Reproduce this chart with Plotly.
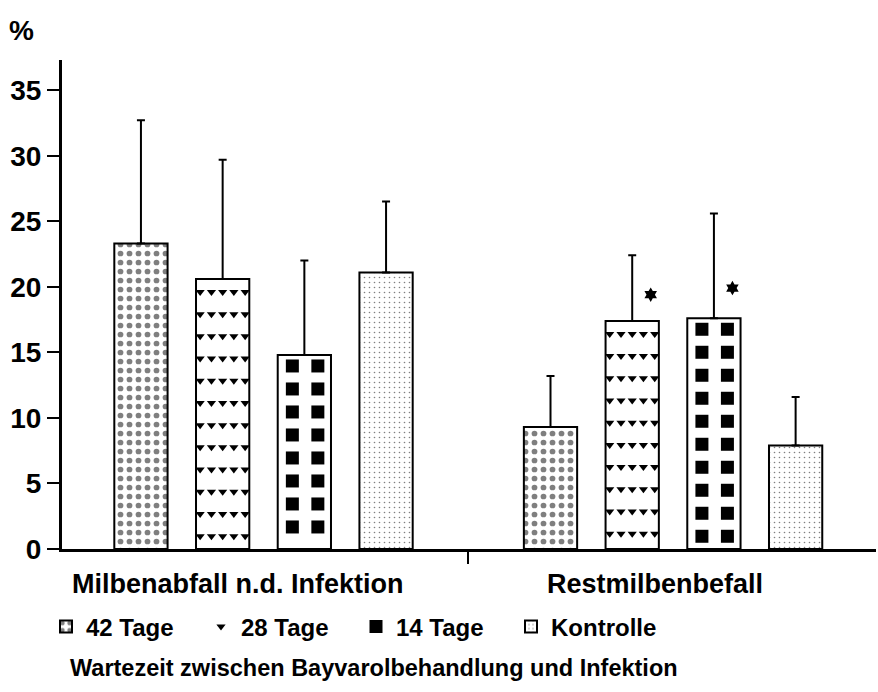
import plotly.graph_objects as go

# ---- data ----
groups = ["Milbenabfall n.d. Infektion", "Restmilbenbefall"]
series = ["42 Tage", "28 Tage", "14 Tage", "Kontrolle"]
means_42 = [23.3, 9.3]
means_28 = [20.6, 17.4]
means_14 = [14.8, 17.6]
means_k = [21.1, 7.9]
upper_42 = [32.7, 13.2]
upper_28 = [29.7, 22.4]
upper_14 = [22.0, 25.6]
upper_k = [26.5, 11.6]
signif_28 = [None, 19.4]   # asterisk heights
signif_14 = [None, 19.9]
y_ticks = [0, 5, 10, 15, 20, 25, 30, 35]

means = [means_42, means_28, means_14, means_k]
uppers = [upper_42, upper_28, upper_14, upper_k]

# ---- geometry (styling) ----
BARGAP = 0.202
BARGROUPGAP = 0.348
SLOT = (1 - BARGAP) / 4
XRANGE = [-0.492, 1.4955]
YRANGE = [0, 37.3]
W, H = 878, 692
ML, MR, MT, MB = 62, 2, 60, 143
px_x = (W - ML - MR) / (XRANGE[1] - XRANGE[0])
px_y = (H - MT - MB) / (YRANGE[1] - YRANGE[0])
gx = list(range(len(groups)))

FONT = "Liberation Sans, Arial, sans-serif"

fig = go.Figure()

patterns = [
    dict(shape=".", size=9, solidity=0.32, fgcolor="black", bgcolor="white", fillmode="overlay"),
    None,
    None,
    dict(shape=".", size=5, solidity=0.08, fgcolor="black", bgcolor="white", fillmode="overlay"),
]

for i, name in enumerate(series):
    err = [u - m for u, m in zip(uppers[i], means[i])]
    marker = dict(color="white", line=dict(color="black", width=2))
    if patterns[i] is not None:
        marker["pattern"] = patterns[i]
    fig.add_trace(go.Bar(
        x=gx, y=means[i], name=name, marker=marker,
        showlegend=(patterns[i] is not None), legendrank=i + 1,
        error_y=dict(type="data", symmetric=False, array=err,
                     arrayminus=[0] * len(err), color="black",
                     thickness=2, width=4),
    ))

def centers(i):
    return [g + (i - 1.5) * SLOT for g in gx]

# triangle fill for 28 Tage
tx, ty = [], []
for c, m in zip(centers(1), means_28):
    y = m - 13 / px_y
    while y > 0.15:
        for off in (-22.5, -11.2, 0, 11.2, 22.5):
            tx.append(c + off / px_x)
            ty.append(y)
        y -= 22.2 / px_y
fig.add_trace(go.Scatter(
    x=tx, y=ty, mode="markers", name="28 Tage", legendrank=2,
    marker=dict(symbol="triangle-down", size=8, color="black", line=dict(width=0)),
))

# square fill for 14 Tage
sx, sy = [], []
for c, m in zip(centers(2), means_14):
    y = m - 11 / px_y
    while y > 0.0:
        for off in (-12, 13.5):
            sx.append(c + off / px_x)
            sy.append(y)
        y -= 23 / px_y
fig.add_trace(go.Scatter(
    x=sx, y=sy, mode="markers", name="14 Tage", legendrank=3,
    marker=dict(symbol="square", size=13, color="black", line=dict(width=0)),
))

# asterisks
ax, ay = [], []
for i, sig in ((1, signif_28), (2, signif_14)):
    for c, s in zip(centers(i), sig):
        if s is not None:
            ax.append(c + 18.5 / px_x)
            ay.append(s)
fig.add_trace(go.Scatter(
    x=ax, y=ay, mode="markers", showlegend=False,
    marker=dict(symbol="hexagram", size=11, color="black", line=dict(width=0)),
))

ph = H - MT - MB
pw = W - ML - MR

fig.update_layout(
    width=W, height=H,
    margin=dict(l=ML, r=MR, t=MT, b=MB),
    paper_bgcolor="white", plot_bgcolor="white",
    font=dict(family=FONT, color="black", weight="bold"),
    barmode="group", bargap=BARGAP, bargroupgap=BARGROUPGAP,
    showlegend=True,
    legend=dict(orientation="h", x=-16 / pw, xanchor="left",
                y=(0 - (627 - 549)) / ph, yanchor="middle",
                font=dict(size=24, family=FONT, weight="bold"),
                entrywidth=110, entrywidthmode="pixels",
                traceorder="normal", itemwidth=30),
    xaxis=dict(range=XRANGE, showline=True, linecolor="black", linewidth=3,
               tickvals=[0.5], ticks="outside", ticklen=12, tickwidth=2,
               tickcolor="black", showticklabels=False, showgrid=False,
               zeroline=False),
    yaxis=dict(range=YRANGE, showline=True, linecolor="black", linewidth=3,
               tickvals=y_ticks, ticks="outside", ticklen=12, tickwidth=2,
               tickcolor="black", showgrid=False, zeroline=False,
               tickfont=dict(size=28, family=FONT, weight="bold")),
)

fig.add_annotation(text="%", xref="paper", yref="paper",
                   x=(21 - ML) / pw, y=(549 - 31) / ph, showarrow=False,
                   xanchor="center", yanchor="middle",
                   font=dict(size=28, family=FONT, weight="bold"))
label_x = [238, 655]
for g, lx in zip(groups, label_x):
    fig.add_annotation(text=g, xref="paper", yref="paper",
                       x=(lx - ML) / pw, y=(549 - 584) / ph, showarrow=False,
                       xanchor="center", yanchor="middle",
                       font=dict(size=27, family=FONT, weight="bold"))
fig.add_annotation(text="Wartezeit zwischen Bayvarolbehandlung und Infektion",
                   xref="paper", yref="paper",
                   x=(68 - ML) / pw, y=(549 - 668) / ph, showarrow=False,
                   xanchor="left", yanchor="middle",
                   font=dict(size=23.5, family=FONT, weight="bold"))

fig.write_html("out.html")
